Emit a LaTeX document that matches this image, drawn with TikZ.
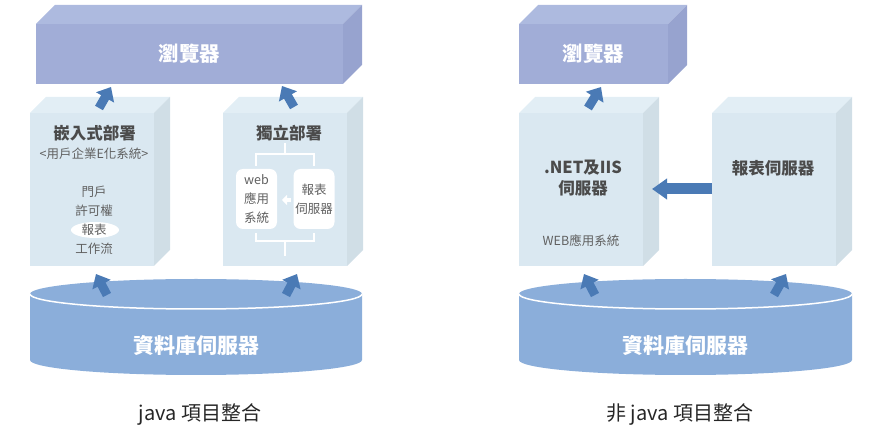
\documentclass[tikz,border=0pt]{standalone}
\usepackage{fontspec}
\setmainfont{Noto Sans CJK TC}
\usetikzlibrary{calc,arrows.meta,shapes.geometric}
\definecolor{brF}{HTML}{A1ADD7}
\definecolor{brT}{HTML}{ADBADF}
\definecolor{brS}{HTML}{97A3CF}
\definecolor{bxF}{HTML}{DAE8F1}
\definecolor{bxT}{HTML}{E2EEF5}
\definecolor{bxS}{HTML}{D0DEE6}
\definecolor{dbC}{HTML}{8BAEDA}
\definecolor{arC}{HTML}{4A7AB5}
\definecolor{hdC}{HTML}{4B4B4B}
\definecolor{smC}{HTML}{606060}
\newcommand\boxfaces[4]{%
 \fill[#3] (#1.north west) -- (#1.north east) -- ($(#1.north east)+(#2,-#2)$) -- ($(#1.north west)+(#2,-#2)$) -- cycle;
 \fill[#4] (#1.north east) -- ($(#1.north east)+(#2,-#2)$) -- ($(#1.south east)+(#2,-#2)$) -- (#1.south east) -- cycle;}
\newcommand\dbcyl[3]{% xleft, xright, name/center x
 \fill[dbC] (#1,294) -- (#1,360) arc[start angle=180,end angle=0,x radius={(#2-#1)/2},y radius=15] -- (#2,294) arc[start angle=0,end angle=-180,x radius={(#2-#1)/2},y radius=15] -- cycle;
 \draw[white,line width=1.5pt] (#1,294) arc[start angle=180,end angle=0,x radius={(#2-#1)/2},y radius=15];}
\tikzset{
 face/.style={rectangle,inner sep=0pt,outer sep=0pt},
 brtxt/.style={text=white,font=\fontsize{20.5}{24}\selectfont\bfseries},
 hd/.style={text=hdC,font=\fontsize{16.5}{21}\selectfont\bfseries,align=center,inner sep=0pt},
 sm/.style={text=smC,font=\fontsize{12.5}{19}\selectfont,align=center,inner sep=0pt},
 dbtxt/.style={text=white,font=\fontsize{21}{24}\selectfont\bfseries,inner sep=0pt},
 captxt/.style={text=black!85,font=\fontsize{20}{24}\selectfont,inner sep=0pt},
 blk/.style={arC,line width=9pt,-{Triangle[width=20pt,length=12pt]}},
 hblk/.style={arC,line width=11pt,-{Triangle[width=20pt,length=15pt]}},
 wbox/.style={fill=white,rounded corners=7pt,minimum width=41pt,minimum height=60pt,inner sep=0pt},
 brk/.style={white,line width=2.5pt},
}
\begin{document}
\begin{tikzpicture}[x=1pt,y=-1pt]
\useasboundingbox (0,0) rectangle (871,430);
% ===== left: java =====
\node[face,fill=brF,minimum width=307pt,minimum height=60pt,brtxt] (brL) at (189.5,54) {瀏覽器};
\boxfaces{brL}{19}{brT}{brS}
\node[face,fill=bxF,minimum width=124pt,minimum height=153pt] (emb) at (92,189.5) {};
\boxfaces{emb}{16}{bxT}{bxS}
\node[face,fill=bxF,minimum width=124pt,minimum height=153pt] (ind) at (285,189.5) {};
\boxfaces{ind}{16}{bxT}{bxS}
\node[hd] (embT) at (94.5,133) {嵌入式部署};
\node[sm] (embS) at (94,154) {<用戶企業E化系統>};
\node[fill=white,ellipse,minimum width=48pt,minimum height=16pt,inner sep=0pt] (rptE) at (95,230) {};
\node[sm] (embL) at (94,220) {門戶\\許可權\\報表\\工作流};
\node[hd] (indT) at (289,133) {獨立部署};
\node[wbox] (web) at (256.5,199) {};
\node[sm] at (web) {web\\應用\\系統};
\node[wbox] (rpt) at (314,199) {};
\node[sm] at (rpt) {報表\\伺服器};
\coordinate (bt1) at (285,143);
\coordinate (bt2) at (285,154);
\draw[brk] (bt1) -- (bt2);
\draw[brk] (256,166) |- (314,154) -- (314,166);
\draw[brk] (256,233) |- (314,241) -- (314,233);
\draw[brk] (285,241) -- (285,256);
\coordinate (sa1) at (291,200);
\coordinate (sa2) at (282,200);
\draw[white,line width=4pt,-{Triangle[width=10pt,length=5pt]}] (sa1) -- (sa2);
\dbcyl{30}{362}{dbL}
\node[dbtxt] (dbL) at (196,345) {資料庫伺服器};
\coordinate (a1s) at (99,108); \coordinate (a1e) at (111,87);
\coordinate (a2s) at (294,107); \coordinate (a2e) at (282,86);
\coordinate (a3s) at (107,295); \coordinate (a3e) at (96,274);
\coordinate (a4s) at (286,295); \coordinate (a4e) at (297,274);
\draw[blk] (a1s) -- (a1e);
\draw[blk] (a2s) -- (a2e);
\draw[blk] (a3s) -- (a3e);
\draw[blk] (a4s) -- (a4e);
\node[captxt] (capL) at (200,414) {java 項目整合};
% ===== right: non-java =====
\node[face,fill=brF,minimum width=149pt,minimum height=60pt,brtxt] (brR) at (593.5,54) {瀏覽器};
\boxfaces{brR}{19}{brT}{brS}
\node[face,fill=bxF,minimum width=124pt,minimum height=153pt] (net) at (581,189.5) {};
\boxfaces{net}{16}{bxT}{bxS}
\node[face,fill=bxF,minimum width=124pt,minimum height=153pt] (rsv) at (774,189.5) {};
\boxfaces{rsv}{16}{bxT}{bxS}
\node[hd] (netT) at (583,178.5) {.NET及IIS\\伺服器};
\node[sm] (netS) at (581,241) {WEB應用系統};
\node[hd] (rsvT) at (773,168) {報表伺服器};
\coordinate (h1) at (712,189);
\coordinate (h2) at (652,189);
\draw[hblk] (h1) -- (h2);
\dbcyl{519}{852}{dbR}
\node[dbtxt] (dbR) at (685,345) {資料庫伺服器};
\coordinate (b1s) at (588,108); \coordinate (b1e) at (601,87);
\coordinate (b3s) at (595,295); \coordinate (b3e) at (584,274);
\coordinate (b4s) at (774,295); \coordinate (b4e) at (786,274);
\draw[blk] (b1s) -- (b1e);
\draw[blk] (b3s) -- (b3e);
\draw[blk] (b4s) -- (b4e);
\node[captxt] (capR) at (680,414) {非 java 項目整合};
\end{tikzpicture}
\end{document}
